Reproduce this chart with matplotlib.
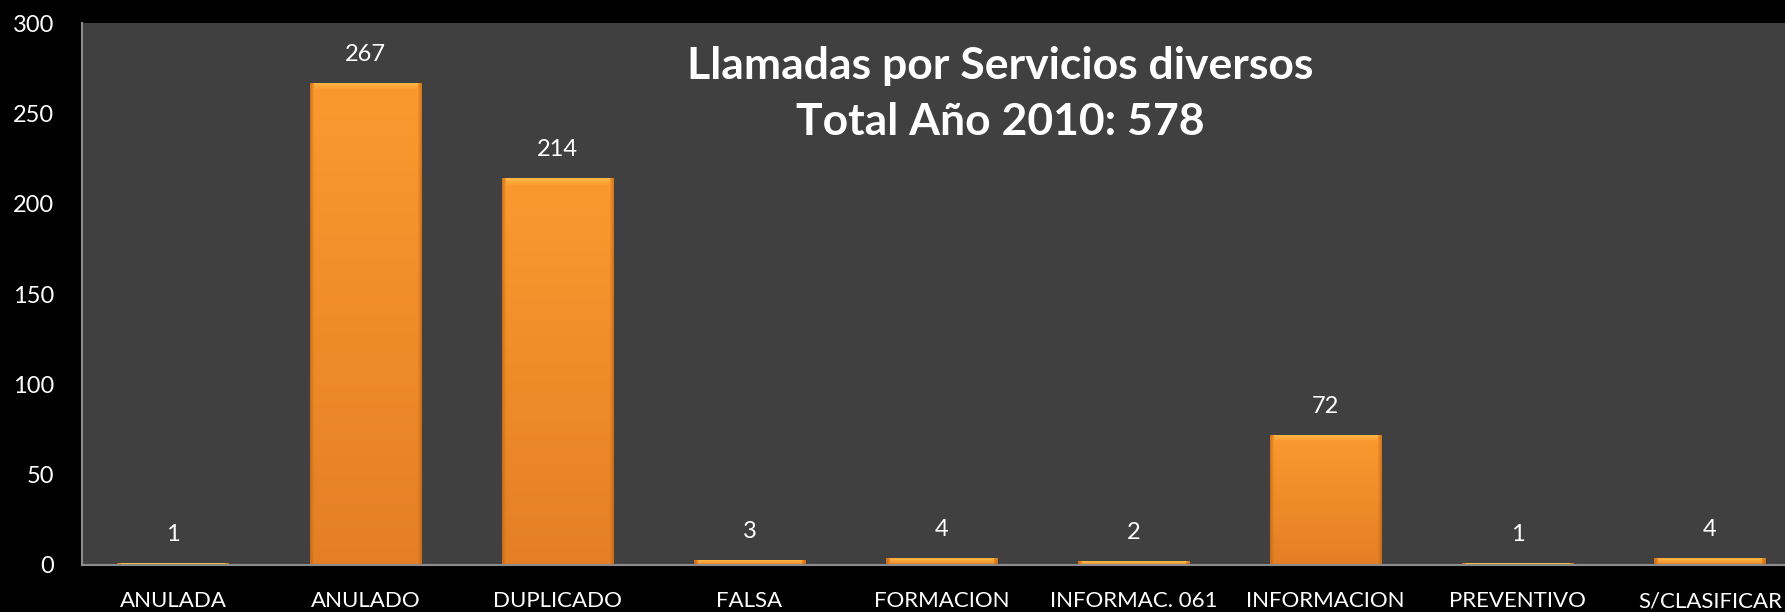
import numpy as np
import matplotlib
matplotlib.use('Agg')
from matplotlib import pyplot as plt
from matplotlib.colors import to_rgb

categories = ['ANULADA', 'ANULADO', 'DUPLICADO', 'FALSA', 'FORMACION',
              'INFORMAC. 061', 'INFORMACION', 'PREVENTIVO', 'S/CLASIFICAR']
values = [1, 267, 214, 3, 4, 2, 72, 1, 4]
title = 'Llamadas por Servicios diversos\nTotal Año 2010: 578'
yticks = [0, 50, 100, 150, 200, 250, 300]

plt.rcParams['font.family'] = ['Lato', 'DejaVu Sans']

fig = plt.figure(figsize=(17.85, 6.12), dpi=100, facecolor='black')
ax = fig.add_axes([0.046, 0.0768, 0.954, 0.8856])
ax.set_facecolor('#404040')

x = np.arange(len(categories))
bars = ax.bar(x, values, width=0.58, color='#F7941D', edgecolor='none', zorder=2)

ax.set_xlim(-0.474, 8.391)
ax.set_ylim(0, 300)
fig.canvas.draw()


def bar_image(wpx, hpx):
    """ RGB image for a bevelled orange bar of wpx x hpx pixels """
    top = np.array(to_rgb('#FA9A2E'))
    bot = np.array(to_rgb('#E47F26'))
    t = np.linspace(0, 1, hpx)[:, None, None]
    img = np.repeat(top * (1 - t) + bot * t, wpx, axis=1)
    # darker sides
    side = max(2, int(wpx * 0.04))
    dark = np.array(to_rgb('#B8600F'))
    for i in range(side):
        a = 0.6 * (1 - i / side)
        img[:, i] = img[:, i] * (1 - a) + dark * a
        img[:, -1 - i] = img[:, -1 - i] * (1 - a) + dark * a
    # light strip on top
    bev = min(hpx, 7)
    light = np.array(to_rgb('#FFC24E'))
    for i in range(bev):
        a = 0.8 * (1 - i / bev)
        img[i, side:-side] = img[i, side:-side] * (1 - a) + light * a
    return np.clip(img, 0, 1)


for b in bars:
    x0, y0 = b.get_x(), b.get_y()
    w, h = b.get_width(), b.get_height()
    p0 = ax.transData.transform((x0, y0))
    p1 = ax.transData.transform((x0 + w, y0 + h))
    wpx = max(int(abs(p1[0] - p0[0])), 4)
    hpx = max(int(abs(p1[1] - p0[1])), 1)
    im = ax.imshow(bar_image(wpx, hpx), extent=(x0, x0 + w, y0, y0 + h),
                   aspect='auto', zorder=3, interpolation='bilinear')
    im.set_clip_path(b)

for xi, v in zip(x, values):
    ax.annotate(str(v), (xi, v), xytext=(0, 13), textcoords='offset points',
                ha='center', va='bottom', color='white', fontsize=17)

ax.set_xticks(x)
ax.set_xticklabels(categories, color='white', fontsize=16)
ax.set_yticks(yticks)
ax.set_yticklabels([str(t) for t in yticks], color='white', fontsize=17)
ax.tick_params(axis='x', length=0, pad=19)
ax.tick_params(axis='y', length=0, pad=20)

for s in ['top', 'right']:
    ax.spines[s].set_visible(False)
for s in ['left', 'bottom']:
    ax.spines[s].set_color('#8C8C8C')
    ax.spines[s].set_linewidth(1.5)
    ax.spines[s].set_zorder(4)

ax.text(0.539, 0.958, title, transform=ax.transAxes, ha='center', va='top',
        color='white', fontsize=32, fontweight='bold', linespacing=1.5)

fig.savefig('out.png', dpi=100, facecolor='black')
